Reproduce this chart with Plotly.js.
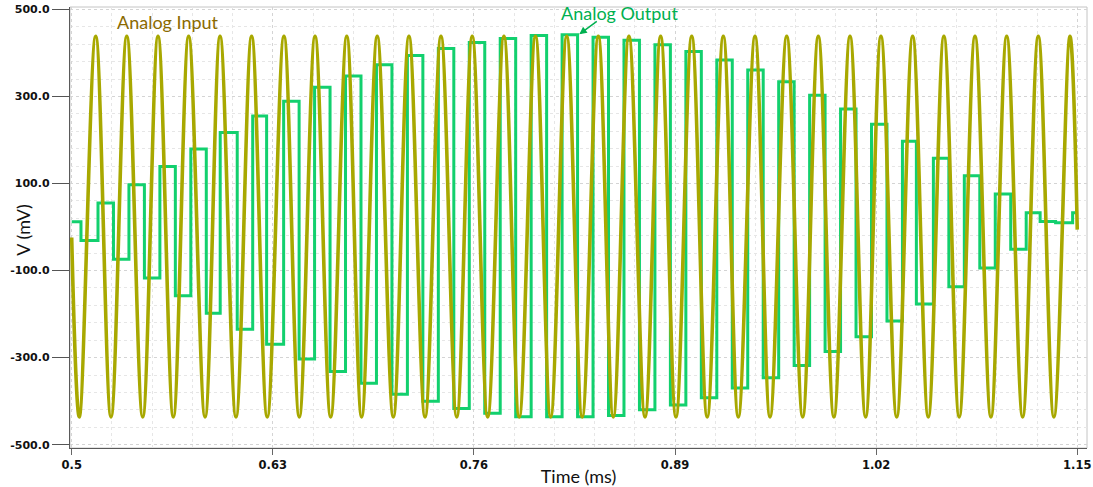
<!DOCTYPE html>
<html>
<head>
<meta charset="utf-8">
<script src="https://cdn.plot.ly/plotly-3.0.1.min.js"></script>
<style>
html,body{margin:0;padding:0;background:#ffffff;}
#chart{width:1093px;height:487px;}
</style>
</head>
<body>
<div id="chart"></div>
<script>
// ---- Data ----
// Analog input: start point, alternating troughs / peaks (times in ms), end point
const inputTime = [
  0.5000,
  0.5049, 0.5155, 0.5254, 0.5356, 0.5459, 0.5558, 0.5657, 0.5756,
  0.5862, 0.5959, 0.6062, 0.6163, 0.6264, 0.6372, 0.6471, 0.6573,
  0.6674, 0.6778, 0.6874, 0.6975, 0.7079, 0.7180, 0.7284, 0.7387,
  0.7489, 0.7589, 0.7689, 0.7794, 0.7893, 0.7998, 0.8096, 0.8200,
  0.8300, 0.8404, 0.8501, 0.8602, 0.8706, 0.8807, 0.8906, 0.9008,
  0.9108, 0.9212, 0.9309, 0.9417, 0.9514, 0.9622, 0.9725, 0.9826,
  0.9927, 1.0031, 1.0132, 1.0231, 1.0333, 1.0436, 1.0537, 1.0638,
  1.0737, 1.0839, 1.0942, 1.1044, 1.1147, 1.1248, 1.1349, 1.1453,
  1.1500
];
const inputMv = [
  -24,
  -436, 438, -436, 438, -436, 438, -436, 438,
  -436, 438, -436, 438, -436, 438, -436, 438,
  -436, 438, -436, 438, -436, 438, -436, 438,
  -436, 438, -436, 438, -436, 438, -436, 438,
  -436, 438, -436, 438, -436, 438, -436, 438,
  -436, 438, -436, 438, -436, 438, -436, 438,
  -436, 438, -436, 438, -436, 438, -436, 438,
  -436, 438, -436, 438, -436, 438, -436, 438,
  -6
];
// Analog output: sample-and-hold levels (start time of each step, in ms)
const outputTime = [
  0.500, 0.506, 0.517, 0.527, 0.537, 0.547, 0.557, 0.567, 0.577, 0.587,
  0.596, 0.607, 0.617, 0.626, 0.637, 0.647, 0.657, 0.667, 0.677, 0.687,
  0.697, 0.707, 0.717, 0.727, 0.737, 0.747, 0.757, 0.767, 0.777, 0.787,
  0.797, 0.807, 0.817, 0.827, 0.837, 0.847, 0.857, 0.867, 0.877, 0.887,
  0.897, 0.907, 0.917, 0.927, 0.937, 0.947, 0.957, 0.967, 0.977, 0.987,
  0.997, 1.007, 1.017, 1.027, 1.037, 1.046, 1.057, 1.067, 1.077, 1.087,
  1.097, 1.107, 1.117, 1.126, 1.136, 1.147, 1.150
];
const outputMv = [
  12, -31, 55, -74, 97, -117, 139, -158, 179, -198,
  217, -235, 255, -269, 289, -303, 321, -332, 347, -359,
  373, -384, 394, -400, 410, -417, 424, -428, 433, -436,
  440, -436, 442, -436, 436, -433, 429, -420, 419, -409,
  403, -392, 384, -370, 361, -346, 334, -318, 303, -286,
  271, -252, 236, -216, 197, -177, 158, -137, 118, -94,
  76, -51, 33, 13, 10, 33, 33
];
const xTickVals = [0.5, 0.63, 0.76, 0.89, 1.02, 1.15];
const xTickText = ['0.5', '0.63', '0.76', '0.89', '1.02', '1.15'];
const yTickVals = [-500, -300, -100, 100, 300, 500];
const yTickText = ['-500.0', '-300.0', '-100.0', '100.0', '300.0', '500.0'];

const seriesNames = ['Analog Output', 'Analog Input'];

const traces = [
  {
    x: outputTime, y: outputMv, name: seriesNames[0],
    type: 'scatter', mode: 'lines',
    line: {color: '#12D06E', width: 3, shape: 'hv'},
    hoverinfo: 'skip'
  },
  {
    x: inputTime, y: inputMv, name: seriesNames[1],
    type: 'scatter', mode: 'lines',
    line: {color: '#A8A800', width: 3.6, shape: 'spline', smoothing: 1.05},
    hoverinfo: 'skip'
  }
];

const yTickFont = {family: 'DejaVu Sans, Liberation Sans, sans-serif', size: 11, color: '#111', weight: 'bold'};
const xTickFont = {family: 'DejaVu Sans, Liberation Sans, sans-serif', size: 11.5, color: '#111', weight: 'bold'};
const titleFont = {family: 'Lato, Open Sans, sans-serif', size: 18, color: '#111'};

const layout = {
  width: 1093, height: 487,
  margin: {l: 70, r: 6, t: 7, b: 39, pad: 0},
  paper_bgcolor: '#ffffff',
  plot_bgcolor: '#ffffff',
  showlegend: false,
  xaxis: {
    range: [0.4989, 1.1563],
    tickvals: xTickVals, ticktext: xTickText,
    ticks: 'outside', ticklen: 6, tickcolor: '#666', tickwidth: 1,
    tickfont: xTickFont,
    showline: true, linecolor: '#5a5a5a', linewidth: 1.2,
    showgrid: true, gridcolor: '#d4d4d4', griddash: 'dot', gridwidth: 1,
    minor: {tick0: 0.5, dtick: 0.026, showgrid: true, gridcolor: '#e6e6e6', griddash: 'dot', gridwidth: 1, ticks: ''},
    zeroline: false,
    title: {text: 'Time (ms)', font: titleFont, standoff: 0},
    automargin: false
  },
  yaxis: {
    range: [-507.6, 505.5],
    tickvals: yTickVals, ticktext: yTickText,
    ticks: 'outside', ticklen: 17, tickcolor: '#555', tickwidth: 1,
    tickfont: yTickFont,
    showline: true, linecolor: '#5a5a5a', linewidth: 1.2,
    showgrid: true, gridcolor: '#d4d4d4', griddash: 'dot', gridwidth: 1,
    minor: {tick0: -500, dtick: 40, showgrid: true, gridcolor: '#e6e6e6', griddash: 'dot', gridwidth: 1, ticks: ''},
    zeroline: false,
    automargin: false
  },
  shapes: [
    {type: 'rect', xref: 'paper', yref: 'paper', x0: 0, x1: 1, y0: 0, y1: 1,
     line: {color: '#c4c4c4', width: 1}, layer: 'below'}
  ],
  annotations: [
    {x: -0.0462, y: -6, xref: 'paper', yref: 'y', text: 'V (mV)', showarrow: false,
     textangle: -90, xanchor: 'center', yanchor: 'middle', font: titleFont},
    {x: 0.5622, y: 471, xref: 'x', yref: 'y', text: 'Analog Input', showarrow: false,
     xanchor: 'center', yanchor: 'middle',
     font: {family: 'Lato, Open Sans, sans-serif', size: 18, color: '#8A6A00'}},
    {x: 0.8544, y: 491, xref: 'x', yref: 'y', text: 'Analog Output', showarrow: false,
     xanchor: 'center', yanchor: 'middle',
     font: {family: 'Lato, Open Sans, sans-serif', size: 18, color: '#00B050'}},
    {x: 0.8281, y: 443, xref: 'x', yref: 'y', text: ' ', showarrow: true,
     ax: 19, ay: -14, arrowhead: 2, arrowsize: 1, arrowwidth: 1.5, arrowcolor: '#00B050',
     standoff: 0, startstandoff: 0, font: {size: 1}}
  ]
};

Plotly.newPlot('chart', traces, layout, {staticPlot: true, displayModeBar: false});
</script>
</body>
</html>
